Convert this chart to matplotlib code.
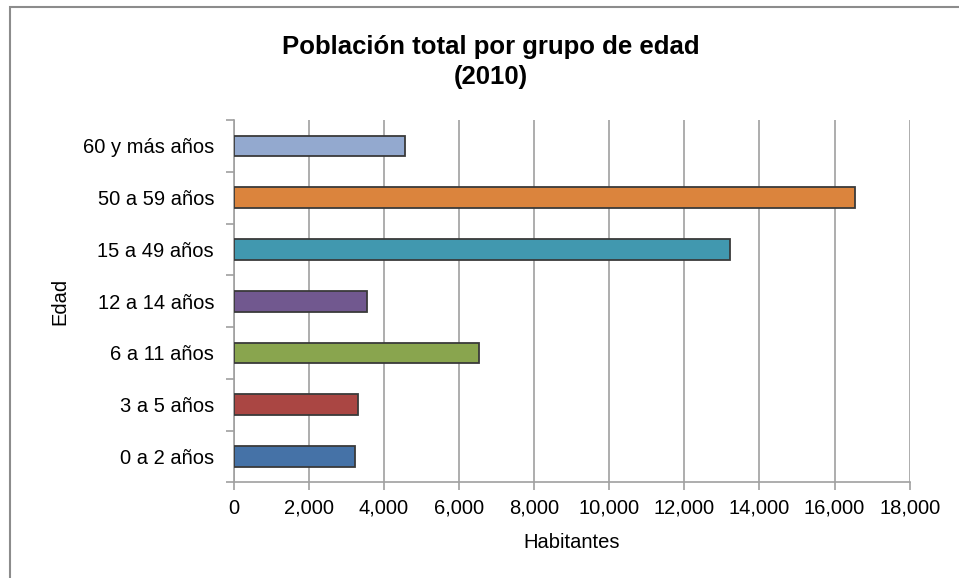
import numpy as np
import matplotlib.pyplot as plt
from matplotlib.patches import Rectangle
from matplotlib.ticker import FuncFormatter, MultipleLocator

grupos = ['0 a 2 años', '3 a 5 años', '6 a 11 años', '12 a 14 años',
          '15 a 49 años', '50 a 59 años', '60 y más años']
habitantes = [3232, 3302, 6539, 3552, 13216, 16535, 4555]
colores = ['#4572A7', '#AA4643', '#89A54E', '#71588F',
           '#4198AF', '#DB843D', '#93A9CF']

plt.rcParams['font.family'] = ['Liberation Sans', 'DejaVu Sans']

fig = plt.figure(figsize=(9.59, 5.78), dpi=100)
ax = fig.add_axes([233.5 / 959, 95.7 / 578, 676.2 / 959, 362.3 / 578])

# chart area border
fig.patches.append(Rectangle((10 / 959, -0.1), 1.2, (578 - 7) / 578 + 0.1,
                             transform=fig.transFigure, fill=False,
                             edgecolor='#8c8c8c', linewidth=1.5))

y = np.arange(len(grupos))
ax.barh(y, habitantes, height=0.4, color=colores, edgecolor='#3a3a3a',
        linewidth=1.3, zorder=3)

ax.set_xlim(0, 18000)
ax.set_ylim(-0.5, len(grupos) - 0.5)
ax.xaxis.set_major_locator(MultipleLocator(2000))
ax.xaxis.set_major_formatter(FuncFormatter(lambda v, p: f'{int(v):,}'))
ax.set_yticks(y)
ax.set_yticklabels(grupos)
ax.set_yticks(np.arange(-0.5, len(grupos), 1), minor=True)

ax.grid(axis='x', color='#a0a0a0', linewidth=1.2, zorder=0)
for s in ['top', 'right']:
    ax.spines[s].set_visible(False)
for s in ['left', 'bottom']:
    ax.spines[s].set_color('#a0a0a0')
    ax.spines[s].set_linewidth(1.2)

ax.tick_params(axis='y', which='major', length=0, pad=14, labelsize=14.5)
ax.tick_params(axis='y', which='minor', length=6, color='#a0a0a0', width=1.2)
ax.tick_params(axis='x', length=6, color='#a0a0a0', width=1.2, labelsize=14.5, pad=6)

ax.set_xlabel('Habitantes', fontsize=14.5, labelpad=11)
ax.set_ylabel('Edad', fontsize=14.5, labelpad=10)

fig.text(491 / 959, 1 - 47 / 578, 'Población total por grupo de edad',
         ha='center', va='center', fontsize=18.5, fontweight='bold')
fig.text(491 / 959, 1 - 77 / 578, '(2010)',
         ha='center', va='center', fontsize=18.5, fontweight='bold')

fig.savefig('out.png', dpi=100)
